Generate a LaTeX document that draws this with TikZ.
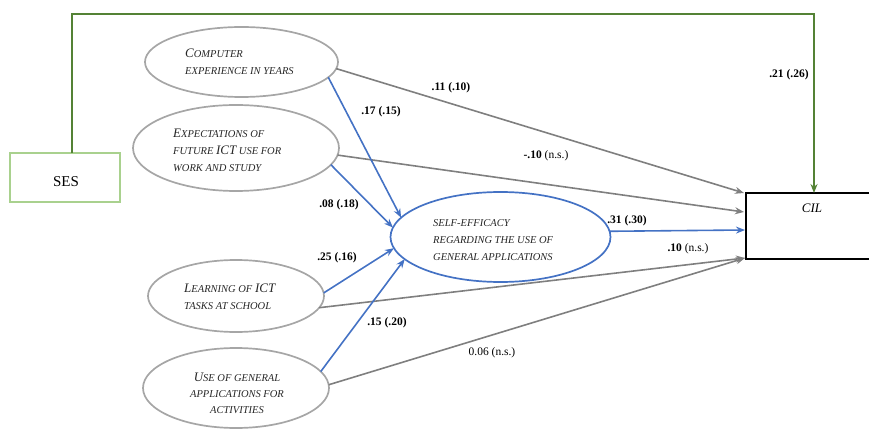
\documentclass[tikz,border=0pt]{standalone}
\usepackage{fontspec}
\setmainfont{Liberation Serif}
\usetikzlibrary{arrows.meta,calc,shapes.geometric}
\definecolor{elgray}{HTML}{A6A6A6}
\definecolor{argray}{HTML}{7F7F7F}
\definecolor{arblue}{HTML}{4472C4}
\definecolor{dgreen}{HTML}{548235}
\definecolor{lgreen}{HTML}{A9D18E}
\definecolor{txtcol}{HTML}{262626}
\newcommand\Ini[1]{{\fontsize{13}{13}\selectfont #1}}
\begin{document}
\begin{tikzpicture}[x=1pt,y=-1pt,
  var/.style={ellipse, draw=elgray, line width=1.7pt, inner sep=0pt, outer sep=0pt},
  vtext/.style={font=\fontsize{10.5}{17}\selectfont\itshape, text=txtcol, inner sep=0pt, align=left, anchor=west},
  garrow/.style={draw=argray, line width=1.6pt, -{Stealth[length=9pt,width=7pt]}},
  barrow/.style={draw=arblue, line width=1.6pt, -{Stealth[length=9pt,width=7pt]}},
  lab/.style={font=\fontsize{11.5}{12}\selectfont, inner sep=0pt},
]
\useasboundingbox (0,0) rectangle (869,430);

% variables
\node[var, minimum width=193pt, minimum height=70pt] (e1) at (241.5,62) {};
\node[var, minimum width=206pt, minimum height=86pt] (e2) at (236,148) {};
\node[var, minimum width=176pt, minimum height=72pt] (e3) at (236,296) {};
\node[var, minimum width=186pt, minimum height=80pt] (e4) at (236,388) {};
\node[ellipse, draw=arblue, line width=1.7pt, inner sep=0pt, outer sep=0pt,
      minimum width=220pt, minimum height=90pt] (se) at (500.5,237) {};
\node[draw, line width=2.6pt, inner sep=0pt, outer sep=0pt,
      minimum width=126pt, minimum height=66pt] (cil) at (809,226) {};
\node[draw=lgreen, line width=2.2pt, inner sep=0pt, outer sep=0pt,
      minimum width=110pt, minimum height=49pt] (ses) at (65,177.5) {};

% texts
\node[vtext] (t1) at (185,62) {\Ini{C}OMPUTER\\EXPERIENCE IN YEARS};
\node[vtext] (t2) at (173,150) {\Ini{E}XPECTATIONS OF\\FUTURE \Ini{ICT} USE FOR\\WORK AND STUDY};
\node[vtext] (t3) at (184,297) {\Ini{L}EARNING OF \Ini{ICT}\\TASKS AT SCHOOL};
\node[vtext, align=center, anchor=center, font=\fontsize{10.5}{16}\selectfont\itshape] (t4) at (237,393) {\Ini{U}SE OF GENERAL\\APPLICATIONS FOR\\ACTIVITIES};
\node[vtext] (t5) at (433,240) {SELF-EFFICACY\\REGARDING THE USE OF\\GENERAL APPLICATIONS};
\node[font=\fontsize{13}{13}\selectfont\itshape, inner sep=0pt] (t6) at (812,208) {CIL};
\node[font=\fontsize{15}{15}\selectfont, inner sep=0pt] (t7) at (66,182) {SES};

% entry points on CIL
\coordinate (c1) at ($(cil.north west)+(-2,0)$);
\coordinate (c2) at ($(cil.north west)+(-2,19)$);
\coordinate (c3) at ($(cil.north west)+(-1,37)$);
\coordinate (c4) at ($(cil.south west)+(-1,-1)$);
\coordinate (gtop) at (814,14);

% grey paths
\draw[garrow] (e1.-4) -- (c1);
\draw[garrow] (e2.-4) -- (c2);
\draw[garrow] (e3.-8) -- (c4);
\draw[garrow] (e4.2) -- (c4);

% blue paths
\draw[barrow] (e1.-10) -- (se.169);
\draw[barrow] (e2.-10) -- (se.175);
\draw[barrow] (e3.2) -- (se.186);
\draw[barrow] (e4.11) -- (se.193);
\draw[barrow] (se.3) -- (c3);

% green path
\draw[dgreen, line width=2.2pt, -{Stealth[length=9pt,width=7pt]}]
  ([xshift=7pt]ses.north) |- (gtop) -- (gtop |- cil.north);

% labels
\node[lab] (l1) at (451,88) {\textbf{.11 (.10)}};
\node[lab] (l2) at (381,112) {\textbf{.17 (.15)}};
\node[lab] (l3) at (546,156) {\textbf{-.10} (n.s.)};
\node[lab] (l4) at (339,205) {\textbf{.08 (.18)}};
\node[lab] (l5) at (337,258) {\textbf{.25 (.16)}};
\node[lab] (l6) at (387,323) {\textbf{.15 (.20)}};
\node[lab] (l7) at (627,221) {\textbf{.31 (.30)}};
\node[lab] (l8) at (688,249) {\textbf{.10} (n.s.)};
\node[lab] (l9) at (492,353) {0.06 (n.s.)};
\node[lab] (l10) at (789,75) {\textbf{.21 (.26)}};
\end{tikzpicture}
\end{document}
